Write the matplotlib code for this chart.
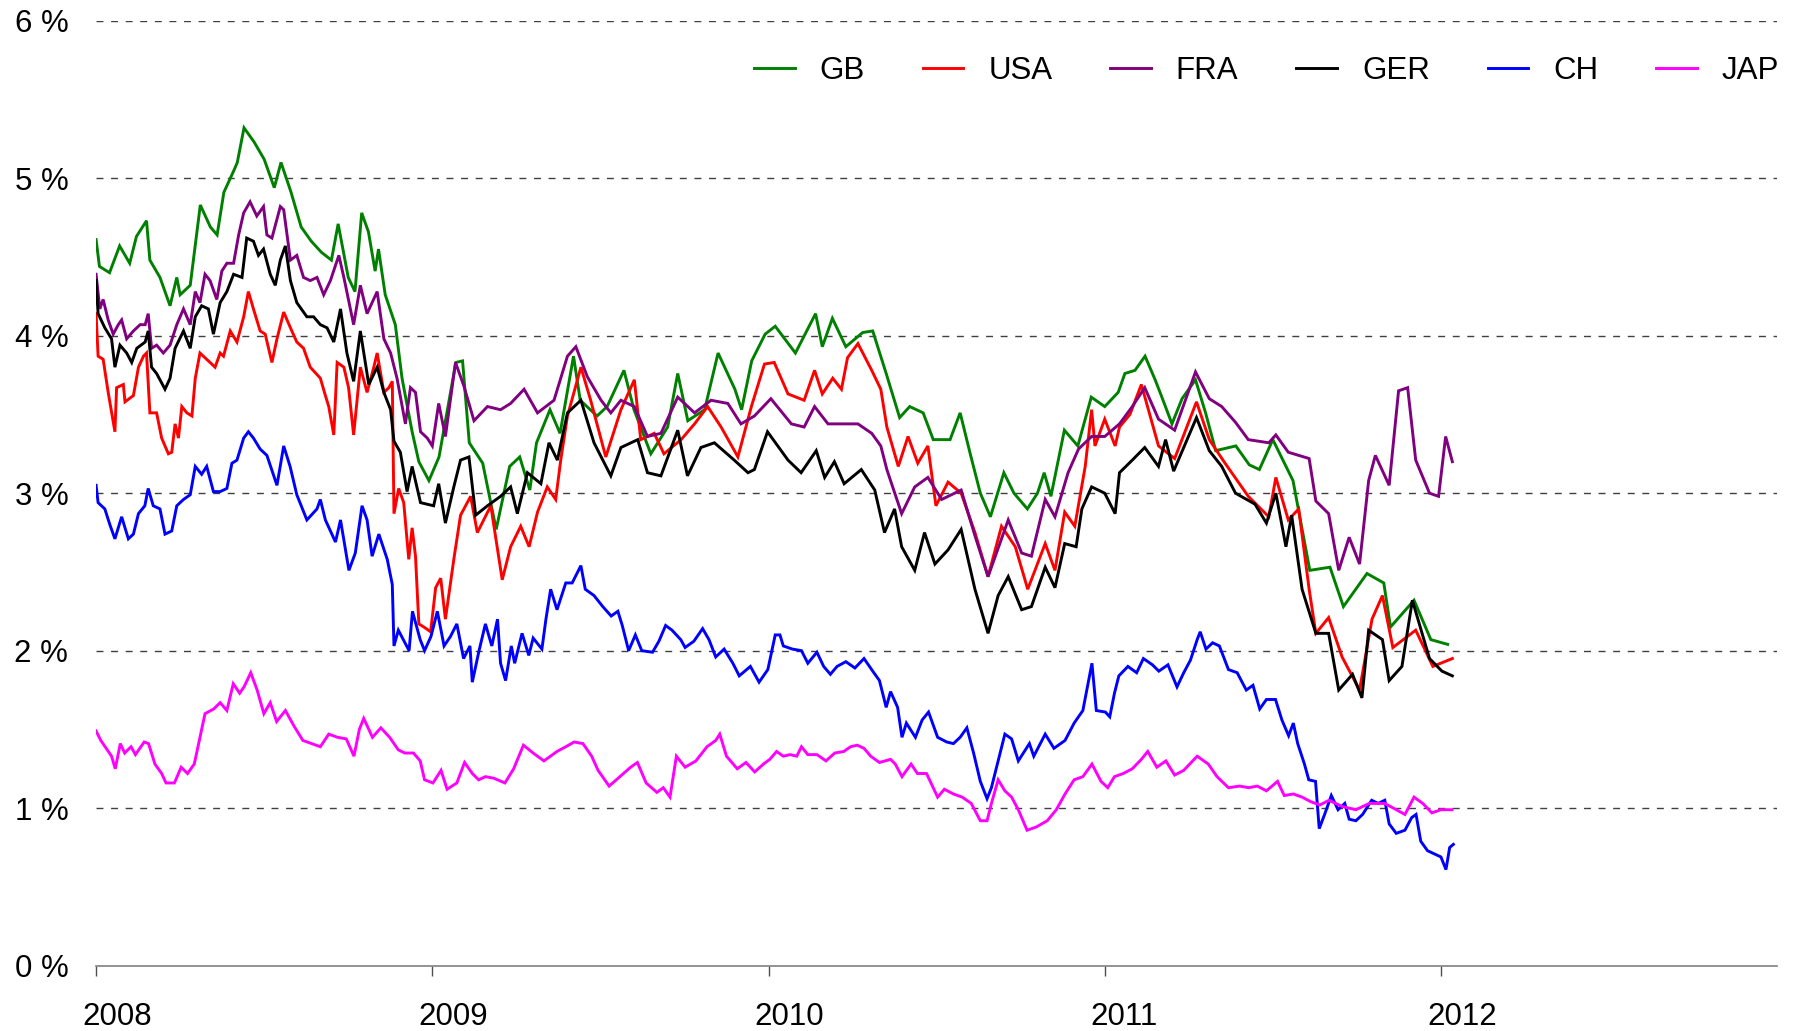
import matplotlib
matplotlib.use("Agg")
import matplotlib.pyplot as plt
import matplotlib.transforms as mtransforms

plt.rcParams['font.family'] = ['Liberation Sans', 'DejaVu Sans']

# ---- data (yields in %, time in decimal years) ----
gb_t = [2008.00, 2008.01, 2008.04, 2008.07, 2008.10, 2008.12, 2008.15, 2008.16, 2008.19, 2008.22,
        2008.24, 2008.25, 2008.28, 2008.31, 2008.34, 2008.36, 2008.38, 2008.41, 2008.42, 2008.44,
        2008.47, 2008.50, 2008.53, 2008.55, 2008.58, 2008.61, 2008.64, 2008.67, 2008.70, 2008.72,
        2008.75, 2008.77, 2008.79, 2008.81, 2008.83, 2008.84, 2008.86, 2008.89, 2008.91, 2008.94,
        2008.96, 2008.99, 2009.02, 2009.07, 2009.09, 2009.11, 2009.15, 2009.19, 2009.23, 2009.26,
        2009.29, 2009.31, 2009.35, 2009.38, 2009.42, 2009.44, 2009.49, 2009.52, 2009.57, 2009.60,
        2009.65, 2009.70, 2009.73, 2009.76, 2009.81, 2009.85, 2009.90, 2009.92, 2009.95, 2009.99,
        2010.02, 2010.08, 2010.14, 2010.16, 2010.19, 2010.23, 2010.28, 2010.31, 2010.35, 2010.39,
        2010.42, 2010.46, 2010.49, 2010.54, 2010.57, 2010.60, 2010.63, 2010.66, 2010.70, 2010.73,
        2010.77, 2010.80, 2010.82, 2010.84, 2010.88, 2010.92, 2010.96, 2011.00, 2011.04, 2011.06,
        2011.09, 2011.12, 2011.15, 2011.17, 2011.20, 2011.23, 2011.27, 2011.30, 2011.33, 2011.39,
        2011.43, 2011.46, 2011.50, 2011.56, 2011.61, 2011.67, 2011.71, 2011.78, 2011.83, 2011.85,
        2011.92, 2011.97, 2012.02]
gb_v = [4.61, 4.44, 4.40, 4.57, 4.46, 4.63, 4.73, 4.48, 4.37, 4.19,
        4.37, 4.26, 4.32, 4.83, 4.69, 4.64, 4.91, 5.05, 5.10, 5.32,
        5.23, 5.12, 4.94, 5.10, 4.91, 4.69, 4.60, 4.53, 4.48, 4.71,
        4.37, 4.28, 4.78, 4.66, 4.41, 4.55, 4.26, 4.07, 3.73, 3.39,
        3.20, 3.08, 3.23, 3.83, 3.84, 3.32, 3.19, 2.77, 3.17, 3.23,
        3.02, 3.32, 3.53, 3.38, 3.87, 3.59, 3.49, 3.55, 3.78, 3.53,
        3.25, 3.42, 3.76, 3.46, 3.53, 3.89, 3.66, 3.53, 3.84, 4.01,
        4.06, 3.89, 4.14, 3.93, 4.11, 3.93, 4.02, 4.03, 3.76, 3.48,
        3.55, 3.51, 3.34, 3.34, 3.51, 3.25, 3.00, 2.85, 3.13, 3.00,
        2.90, 3.00, 3.13, 2.98, 3.40, 3.30, 3.61, 3.55, 3.64, 3.76,
        3.78, 3.87, 3.72, 3.61, 3.44, 3.60, 3.72, 3.51, 3.27, 3.30,
        3.18, 3.15, 3.34, 3.08, 2.51, 2.53, 2.28, 2.49, 2.43, 2.15,
        2.32, 2.07, 2.04]

usa_t = [2008.000, 2008.006, 2008.021, 2008.036, 2008.056, 2008.061, 2008.081, 2008.086, 2008.111, 2008.126,
         2008.141, 2008.150, 2008.160, 2008.180, 2008.195, 2008.215, 2008.225, 2008.235, 2008.245, 2008.255,
         2008.270, 2008.285, 2008.295, 2008.309, 2008.329, 2008.354, 2008.369, 2008.379, 2008.399, 2008.419,
         2008.439, 2008.453, 2008.468, 2008.488, 2008.503, 2008.523, 2008.538, 2008.558, 2008.578, 2008.597,
         2008.617, 2008.637, 2008.667, 2008.682, 2008.692, 2008.707, 2008.717, 2008.737, 2008.751, 2008.766,
         2008.786, 2008.806, 2008.826, 2008.836, 2008.856, 2008.871, 2008.881, 2008.886, 2008.900, 2008.915,
         2008.930, 2008.940, 2008.950, 2008.960, 2008.975, 2008.995, 2009.010, 2009.025, 2009.039, 2009.064,
         2009.084, 2009.114, 2009.134, 2009.174, 2009.208, 2009.233, 2009.263, 2009.288, 2009.313, 2009.342,
         2009.367, 2009.382, 2009.402, 2009.442, 2009.471, 2009.516, 2009.561, 2009.601, 2009.620, 2009.660,
         2009.689, 2009.740, 2009.780, 2009.819, 2009.859, 2009.909, 2009.949, 2009.988, 2010.017, 2010.058,
         2010.106, 2010.137, 2010.160, 2010.191, 2010.217, 2010.235, 2010.266, 2010.307, 2010.334, 2010.352,
         2010.386, 2010.415, 2010.444, 2010.474, 2010.498, 2010.534, 2010.573, 2010.614, 2010.653, 2010.693,
         2010.734, 2010.771, 2010.823, 2010.852, 2010.881, 2010.911, 2010.942, 2010.961, 2010.971, 2011.000,
         2011.031, 2011.044, 2011.075, 2011.109, 2011.160, 2011.208, 2011.273, 2011.311, 2011.358, 2011.427,
         2011.488, 2011.509, 2011.546, 2011.577, 2011.608, 2011.628, 2011.666, 2011.706, 2011.758, 2011.795,
         2011.826, 2011.857, 2011.925, 2011.976, 2012.034]
usa_v = [4.14, 3.87, 3.85, 3.64, 3.39, 3.67, 3.69, 3.58, 3.62, 3.80,
         3.87, 3.89, 3.51, 3.51, 3.35, 3.25, 3.26, 3.44, 3.35, 3.55,
         3.51, 3.49, 3.73, 3.89, 3.85, 3.80, 3.89, 3.87, 4.03, 3.96,
         4.12, 4.28, 4.17, 4.03, 4.01, 3.83, 3.98, 4.15, 4.05, 3.96,
         3.92, 3.80, 3.73, 3.62, 3.55, 3.37, 3.83, 3.80, 3.67, 3.37,
         3.80, 3.64, 3.80, 3.89, 3.64, 3.67, 3.71, 2.87, 3.03, 2.94,
         2.58, 2.78, 2.60, 2.17, 2.15, 2.12, 2.40, 2.46, 2.20, 2.58,
         2.86, 2.98, 2.75, 2.92, 2.45, 2.66, 2.79, 2.66, 2.88, 3.04,
         2.96, 3.21, 3.49, 3.80, 3.59, 3.23, 3.53, 3.72, 3.34, 3.38,
         3.25, 3.34, 3.44, 3.55, 3.42, 3.23, 3.55, 3.82, 3.83, 3.63,
         3.59, 3.78, 3.63, 3.73, 3.66, 3.86, 3.95, 3.78, 3.66, 3.42,
         3.17, 3.36, 3.19, 3.30, 2.92, 3.07, 3.00, 2.75, 2.47, 2.79,
         2.66, 2.39, 2.68, 2.51, 2.88, 2.79, 3.17, 3.53, 3.30, 3.47,
         3.30, 3.42, 3.50, 3.69, 3.30, 3.22, 3.58, 3.34, 3.19, 2.98,
         2.85, 3.10, 2.83, 2.90, 2.39, 2.11, 2.21, 1.96, 1.75, 2.20,
         2.35, 2.02, 2.13, 1.90, 1.95]

fra_t = [2008.000, 2008.011, 2008.021, 2008.036, 2008.051, 2008.066, 2008.076, 2008.091, 2008.111, 2008.131,
         2008.146, 2008.155, 2008.165, 2008.180, 2008.200, 2008.220, 2008.240, 2008.260, 2008.280, 2008.295,
         2008.309, 2008.324, 2008.339, 2008.359, 2008.374, 2008.389, 2008.409, 2008.424, 2008.439, 2008.458,
         2008.478, 2008.498, 2008.508, 2008.523, 2008.548, 2008.558, 2008.578, 2008.597, 2008.617, 2008.637,
         2008.657, 2008.677, 2008.697, 2008.722, 2008.737, 2008.766, 2008.786, 2008.806, 2008.836, 2008.856,
         2008.876, 2008.895, 2008.920, 2008.935, 2008.950, 2008.965, 2008.985, 2009.000, 2009.019, 2009.039,
         2009.069, 2009.094, 2009.124, 2009.164, 2009.203, 2009.233, 2009.273, 2009.313, 2009.362, 2009.402,
         2009.427, 2009.461, 2009.502, 2009.531, 2009.561, 2009.601, 2009.640, 2009.680, 2009.730, 2009.780,
         2009.829, 2009.879, 2009.918, 2009.958, 2010.007, 2010.068, 2010.106, 2010.137, 2010.177, 2010.225,
         2010.266, 2010.307, 2010.334, 2010.352, 2010.396, 2010.435, 2010.474, 2010.515, 2010.573, 2010.614,
         2010.653, 2010.713, 2010.753, 2010.782, 2010.823, 2010.852, 2010.891, 2010.922, 2010.961, 2011.000,
         2011.044, 2011.082, 2011.119, 2011.160, 2011.208, 2011.270, 2011.311, 2011.348, 2011.389, 2011.427,
         2011.488, 2011.509, 2011.546, 2011.608, 2011.628, 2011.666, 2011.696, 2011.727, 2011.758, 2011.785,
         2011.805, 2011.846, 2011.874, 2011.901, 2011.925, 2011.966, 2011.993, 2012.014, 2012.034]
fra_v = [4.39, 4.17, 4.23, 4.10, 4.01, 4.07, 4.10, 3.98, 4.03, 4.07,
         4.07, 4.14, 3.92, 3.94, 3.89, 3.94, 4.07, 4.17, 4.07, 4.28,
         4.21, 4.39, 4.35, 4.23, 4.41, 4.46, 4.46, 4.64, 4.78, 4.85,
         4.76, 4.82, 4.64, 4.62, 4.82, 4.80, 4.48, 4.51, 4.37, 4.35,
         4.37, 4.26, 4.35, 4.51, 4.37, 4.07, 4.32, 4.14, 4.28, 3.98,
         3.89, 3.73, 3.44, 3.67, 3.64, 3.39, 3.35, 3.30, 3.57, 3.36,
         3.83, 3.68, 3.46, 3.55, 3.53, 3.57, 3.66, 3.51, 3.59, 3.87,
         3.93, 3.74, 3.59, 3.51, 3.59, 3.55, 3.36, 3.38, 3.61, 3.51,
         3.59, 3.57, 3.44, 3.49, 3.60, 3.44, 3.42, 3.55, 3.44, 3.44,
         3.44, 3.38, 3.30, 3.15, 2.87, 3.04, 3.10, 2.96, 3.02, 2.73,
         2.47, 2.83, 2.62, 2.60, 2.96, 2.85, 3.13, 3.28, 3.36, 3.36,
         3.44, 3.55, 3.67, 3.47, 3.40, 3.77, 3.60, 3.55, 3.45, 3.34,
         3.32, 3.37, 3.26, 3.22, 2.95, 2.87, 2.51, 2.72, 2.55, 3.08,
         3.24, 3.05, 3.65, 3.67, 3.21, 3.00, 2.98, 3.36, 3.20]

ger_t = [2008.000, 2008.006, 2008.026, 2008.046, 2008.056, 2008.071, 2008.091, 2008.106, 2008.121, 2008.146,
         2008.155, 2008.165, 2008.180, 2008.205, 2008.220, 2008.235, 2008.260, 2008.280, 2008.295, 2008.314,
         2008.334, 2008.349, 2008.369, 2008.389, 2008.409, 2008.434, 2008.448, 2008.468, 2008.483, 2008.498,
         2008.518, 2008.533, 2008.548, 2008.563, 2008.578, 2008.597, 2008.627, 2008.647, 2008.667, 2008.687,
         2008.707, 2008.727, 2008.746, 2008.766, 2008.786, 2008.811, 2008.836, 2008.856, 2008.876, 2008.886,
         2008.905, 2008.925, 2008.940, 2008.965, 2009.004, 2009.019, 2009.039, 2009.064, 2009.084, 2009.109,
         2009.129, 2009.164, 2009.203, 2009.233, 2009.253, 2009.283, 2009.323, 2009.347, 2009.372, 2009.402,
         2009.442, 2009.481, 2009.531, 2009.561, 2009.611, 2009.640, 2009.680, 2009.730, 2009.759, 2009.799,
         2009.839, 2009.898, 2009.939, 2009.958, 2009.997, 2010.058, 2010.097, 2010.142, 2010.167, 2010.196,
         2010.225, 2010.276, 2010.316, 2010.345, 2010.375, 2010.396, 2010.435, 2010.464, 2010.495, 2010.534,
         2010.573, 2010.614, 2010.653, 2010.683, 2010.713, 2010.753, 2010.782, 2010.823, 2010.852, 2010.881,
         2010.915, 2010.932, 2010.961, 2011.000, 2011.031, 2011.044, 2011.082, 2011.119, 2011.160, 2011.181,
         2011.205, 2011.273, 2011.311, 2011.348, 2011.389, 2011.447, 2011.481, 2011.509, 2011.539, 2011.556,
         2011.587, 2011.628, 2011.666, 2011.696, 2011.737, 2011.765, 2011.785, 2011.826, 2011.846, 2011.884,
         2011.915, 2011.966, 2012.003, 2012.034]
ger_v = [4.35, 4.14, 4.05, 3.98, 3.80, 3.94, 3.89, 3.83, 3.92, 3.96,
         4.03, 3.80, 3.76, 3.66, 3.73, 3.92, 4.03, 3.92, 4.12, 4.19,
         4.17, 4.01, 4.21, 4.28, 4.39, 4.37, 4.62, 4.60, 4.51, 4.55,
         4.39, 4.32, 4.48, 4.57, 4.35, 4.21, 4.12, 4.12, 4.07, 4.05,
         3.96, 4.17, 3.89, 3.71, 4.03, 3.69, 3.80, 3.64, 3.53, 3.33,
         3.26, 3.01, 3.17, 2.94, 2.92, 3.06, 2.81, 3.04, 3.21, 3.23,
         2.86, 2.92, 2.98, 3.04, 2.87, 3.13, 3.06, 3.32, 3.21, 3.51,
         3.59, 3.32, 3.11, 3.29, 3.34, 3.13, 3.11, 3.40, 3.11, 3.29,
         3.32, 3.21, 3.13, 3.15, 3.39, 3.21, 3.13, 3.27, 3.10, 3.20,
         3.06, 3.15, 3.02, 2.75, 2.90, 2.66, 2.51, 2.75, 2.55, 2.64,
         2.77, 2.39, 2.11, 2.35, 2.47, 2.26, 2.28, 2.53, 2.40, 2.68,
         2.66, 2.90, 3.04, 3.00, 2.87, 3.13, 3.21, 3.29, 3.17, 3.34,
         3.14, 3.48, 3.27, 3.17, 3.00, 2.93, 2.81, 3.00, 2.66, 2.86,
         2.39, 2.11, 2.11, 1.75, 1.85, 1.70, 2.13, 2.07, 1.81, 1.90,
         2.32, 1.95, 1.87, 1.84]

ch_t = [2008.000, 2008.006, 2008.026, 2008.041, 2008.056, 2008.076, 2008.096, 2008.111, 2008.126, 2008.145,
        2008.155, 2008.170, 2008.190, 2008.205, 2008.225, 2008.240, 2008.260, 2008.280, 2008.295, 2008.314,
        2008.329, 2008.349, 2008.369, 2008.389, 2008.404, 2008.419, 2008.439, 2008.453, 2008.468, 2008.488,
        2008.508, 2008.538, 2008.558, 2008.577, 2008.597, 2008.627, 2008.657, 2008.667, 2008.682, 2008.712,
        2008.727, 2008.752, 2008.771, 2008.791, 2008.806, 2008.821, 2008.841, 2008.866, 2008.881, 2008.886,
        2008.899, 2008.931, 2008.941, 2008.964, 2008.977, 2008.996, 2009.015, 2009.035, 2009.054, 2009.073,
        2009.093, 2009.112, 2009.119, 2009.138, 2009.158, 2009.177, 2009.194, 2009.203, 2009.218, 2009.235,
        2009.245, 2009.267, 2009.287, 2009.300, 2009.326, 2009.338, 2009.352, 2009.371, 2009.397, 2009.416,
        2009.442, 2009.455, 2009.481, 2009.507, 2009.532, 2009.552, 2009.565, 2009.584, 2009.604, 2009.623,
        2009.655, 2009.674, 2009.694, 2009.713, 2009.739, 2009.752, 2009.778, 2009.804, 2009.823, 2009.843,
        2009.868, 2009.894, 2009.913, 2009.946, 2009.972, 2009.998, 2010.011, 2010.020, 2010.034, 2010.044,
        2010.071, 2010.098, 2010.117, 2010.144, 2010.164, 2010.184, 2010.204, 2010.230, 2010.257, 2010.284,
        2010.310, 2010.330, 2010.350, 2010.363, 2010.384, 2010.397, 2010.410, 2010.437, 2010.457, 2010.476,
        2010.503, 2010.530, 2010.550, 2010.570, 2010.590, 2010.610, 2010.630, 2010.650, 2010.663, 2010.683,
        2010.703, 2010.723, 2010.743, 2010.776, 2010.789, 2010.823, 2010.849, 2010.882, 2010.909, 2010.935,
        2010.962, 2010.975, 2011.002, 2011.015, 2011.029, 2011.042, 2011.069, 2011.095, 2011.115, 2011.142,
        2011.161, 2011.188, 2011.215, 2011.235, 2011.255, 2011.275, 2011.284, 2011.301, 2011.321, 2011.341,
        2011.368, 2011.394, 2011.421, 2011.441, 2011.461, 2011.481, 2011.508, 2011.527, 2011.547, 2011.561,
        2011.574, 2011.594, 2011.607, 2011.627, 2011.638, 2011.654, 2011.674, 2011.694, 2011.714, 2011.727,
        2011.747, 2011.767, 2011.794, 2011.813, 2011.833, 2011.846, 2011.867, 2011.893, 2011.913, 2011.926,
        2011.940, 2011.960, 2011.980, 2012.000, 2012.015, 2012.026, 2012.037]
ch_v = [3.05, 2.94, 2.90, 2.80, 2.71, 2.85, 2.71, 2.74, 2.87, 2.92,
        3.03, 2.92, 2.90, 2.74, 2.76, 2.92, 2.96, 2.99, 3.17, 3.12,
        3.17, 3.01, 3.01, 3.03, 3.19, 3.21, 3.35, 3.39, 3.35, 3.28,
        3.24, 3.05, 3.30, 3.17, 2.99, 2.83, 2.90, 2.96, 2.83, 2.69,
        2.83, 2.51, 2.62, 2.92, 2.83, 2.60, 2.74, 2.58, 2.42, 2.03,
        2.13, 2.00, 2.25, 2.07, 2.00, 2.09, 2.25, 2.03, 2.09, 2.17,
        1.95, 2.03, 1.80, 1.99, 2.17, 2.03, 2.20, 1.92, 1.81, 2.03,
        1.92, 2.11, 1.97, 2.08, 2.01, 2.20, 2.39, 2.26, 2.43, 2.43,
        2.54, 2.39, 2.35, 2.28, 2.22, 2.25, 2.16, 2.00, 2.10, 2.00,
        1.99, 2.06, 2.16, 2.13, 2.07, 2.02, 2.06, 2.14, 2.07, 1.96,
        2.01, 1.92, 1.84, 1.90, 1.80, 1.88, 2.01, 2.10, 2.10, 2.03,
        2.01, 2.00, 1.92, 1.99, 1.90, 1.85, 1.90, 1.93, 1.89, 1.95,
        1.87, 1.81, 1.64, 1.74, 1.64, 1.45, 1.54, 1.45, 1.56, 1.61,
        1.45, 1.42, 1.41, 1.45, 1.51, 1.35, 1.17, 1.06, 1.13, 1.30,
        1.47, 1.44, 1.30, 1.41, 1.33, 1.47, 1.38, 1.43, 1.54, 1.62,
        1.92, 1.62, 1.61, 1.58, 1.73, 1.84, 1.90, 1.86, 1.95, 1.91,
        1.87, 1.91, 1.77, 1.86, 1.94, 2.07, 2.12, 2.01, 2.05, 2.03,
        1.88, 1.86, 1.75, 1.78, 1.63, 1.69, 1.69, 1.56, 1.46, 1.54,
        1.41, 1.28, 1.18, 1.17, 0.87, 0.96, 1.08, 0.99, 1.03, 0.93,
        0.92, 0.96, 1.05, 1.03, 1.05, 0.90, 0.84, 0.86, 0.94, 0.96,
        0.79, 0.73, 0.71, 0.69, 0.61, 0.75, 0.77]

jap_t = [2008.000, 2008.014, 2008.033, 2008.046, 2008.057, 2008.072, 2008.085, 2008.104, 2008.117, 2008.143,
         2008.156, 2008.175, 2008.195, 2008.208, 2008.233, 2008.253, 2008.272, 2008.292, 2008.311, 2008.324,
         2008.350, 2008.369, 2008.389, 2008.408, 2008.427, 2008.440, 2008.460, 2008.479, 2008.499, 2008.518,
         2008.537, 2008.563, 2008.589, 2008.615, 2008.641, 2008.667, 2008.692, 2008.718, 2008.744, 2008.767,
         2008.783, 2008.796, 2008.822, 2008.847, 2008.873, 2008.899, 2008.918, 2008.944, 2008.964, 2008.977,
         2009.002, 2009.026, 2009.044, 2009.073, 2009.096, 2009.119, 2009.138, 2009.158, 2009.183, 2009.216,
         2009.242, 2009.271, 2009.300, 2009.332, 2009.371, 2009.397, 2009.422, 2009.448, 2009.474, 2009.493,
         2009.526, 2009.558, 2009.590, 2009.610, 2009.636, 2009.668, 2009.687, 2009.707, 2009.726, 2009.752,
         2009.784, 2009.817, 2009.843, 2009.855, 2009.875, 2009.907, 2009.933, 2009.959, 2009.985, 2010.004,
         2010.024, 2010.044, 2010.064, 2010.084, 2010.098, 2010.117, 2010.144, 2010.171, 2010.197, 2010.224,
         2010.244, 2010.264, 2010.284, 2010.304, 2010.330, 2010.363, 2010.377, 2010.397, 2010.424, 2010.443,
         2010.470, 2010.490, 2010.503, 2010.523, 2010.550, 2010.576, 2010.603, 2010.630, 2010.650, 2010.663,
         2010.683, 2010.703, 2010.723, 2010.743, 2010.769, 2010.796, 2010.829, 2010.856, 2010.882, 2010.909,
         2010.935, 2010.962, 2010.989, 2011.009, 2011.029, 2011.055, 2011.082, 2011.109, 2011.128, 2011.155,
         2011.182, 2011.208, 2011.235, 2011.275, 2011.308, 2011.334, 2011.368, 2011.401, 2011.428, 2011.454,
         2011.481, 2011.514, 2011.534, 2011.561, 2011.587, 2011.614, 2011.640, 2011.667, 2011.707, 2011.747,
         2011.787, 2011.833, 2011.867, 2011.893, 2011.920, 2011.946, 2011.973, 2012.000, 2012.033]
jap_v = [1.49, 1.43, 1.37, 1.33, 1.25, 1.41, 1.35, 1.39, 1.34, 1.42,
         1.41, 1.28, 1.22, 1.16, 1.16, 1.26, 1.22, 1.28, 1.47, 1.60,
         1.63, 1.67, 1.62, 1.79, 1.73, 1.77, 1.86, 1.75, 1.60, 1.67,
         1.55, 1.62, 1.52, 1.43, 1.41, 1.39, 1.47, 1.45, 1.44, 1.33,
         1.50, 1.57, 1.45, 1.51, 1.45, 1.37, 1.35, 1.35, 1.30, 1.18,
         1.16, 1.24, 1.12, 1.16, 1.29, 1.22, 1.18, 1.20, 1.19, 1.16,
         1.25, 1.40, 1.35, 1.30, 1.36, 1.39, 1.42, 1.41, 1.33, 1.24,
         1.14, 1.20, 1.26, 1.29, 1.16, 1.10, 1.13, 1.07, 1.33, 1.26,
         1.30, 1.39, 1.43, 1.47, 1.33, 1.25, 1.29, 1.23, 1.28, 1.31,
         1.36, 1.33, 1.34, 1.33, 1.39, 1.34, 1.34, 1.30, 1.35, 1.36,
         1.39, 1.40, 1.38, 1.33, 1.29, 1.31, 1.28, 1.20, 1.28, 1.22,
         1.22, 1.13, 1.07, 1.12, 1.09, 1.07, 1.03, 0.92, 0.92, 1.03,
         1.18, 1.11, 1.07, 0.99, 0.86, 0.88, 0.92, 0.99, 1.09, 1.18,
         1.20, 1.28, 1.17, 1.13, 1.20, 1.22, 1.25, 1.31, 1.36, 1.26,
         1.30, 1.21, 1.24, 1.33, 1.28, 1.20, 1.13, 1.14, 1.13, 1.14,
         1.11, 1.17, 1.08, 1.09, 1.07, 1.04, 1.02, 1.05, 1.01, 0.99,
         1.03, 1.03, 0.99, 0.96, 1.07, 1.03, 0.97, 0.99, 0.99]

series = [("GB", gb_t, gb_v, "#008000"),
          ("USA", usa_t, usa_v, "#ff0000"),
          ("FRA", fra_t, fra_v, "#800080"),
          ("GER", ger_t, ger_v, "#000000"),
          ("CH", ch_t, ch_v, "#0000ff"),
          ("JAP", jap_t, jap_v, "#ff00ff")]
years = [2008, 2009, 2010, 2011, 2012]
pct_ticks = [0, 1, 2, 3, 4, 5, 6]

fig = plt.figure(figsize=(17.96, 10.31), dpi=100, facecolor="white")
ax = fig.add_axes([0.0535, 0.0634, 0.9360, 0.9165])

for name, t, v, c in series:
    ax.plot(t, v, color=c, lw=2.1, label=name, solid_joinstyle="miter")

for y in pct_ticks[1:]:
    ax.axhline(y, color="#404040", lw=1.0, ls=(0, (5, 5.5)), zorder=0)

ax.set_xlim(2008, 2013)
ax.set_ylim(0, 6)
ax.set_yticks(pct_ticks)
ax.set_yticklabels([f"{p} %" for p in pct_ticks])
ax.set_xticks(years)
ax.set_xticklabels([str(y) for y in years])

for s in ("top", "right", "left"):
    ax.spines[s].set_visible(False)
ax.spines["bottom"].set_color("#808080")
ax.spines["bottom"].set_linewidth(1.2)

ax.tick_params(axis="y", length=0, pad=20, labelsize=22.5)
ax.tick_params(axis="x", length=7, width=1, color="#505050", direction="out", pad=19, labelsize=22.5)
off = mtransforms.ScaledTranslation(-0.14, 0, fig.dpi_scale_trans)
for lab in ax.get_xticklabels():
    lab.set_horizontalalignment("left")
    lab.set_transform(lab.get_transform() + off)

ax.legend(ncol=6, frameon=False, fontsize=22.5, handlelength=1.3, handletextpad=0.8,
          columnspacing=1.85, loc="center right", bbox_to_anchor=(1779 / 1796, 1 - 71 / 1031),
          bbox_transform=fig.transFigure, borderpad=0, borderaxespad=0)

fig.savefig("out.png", dpi=100, facecolor="white")
